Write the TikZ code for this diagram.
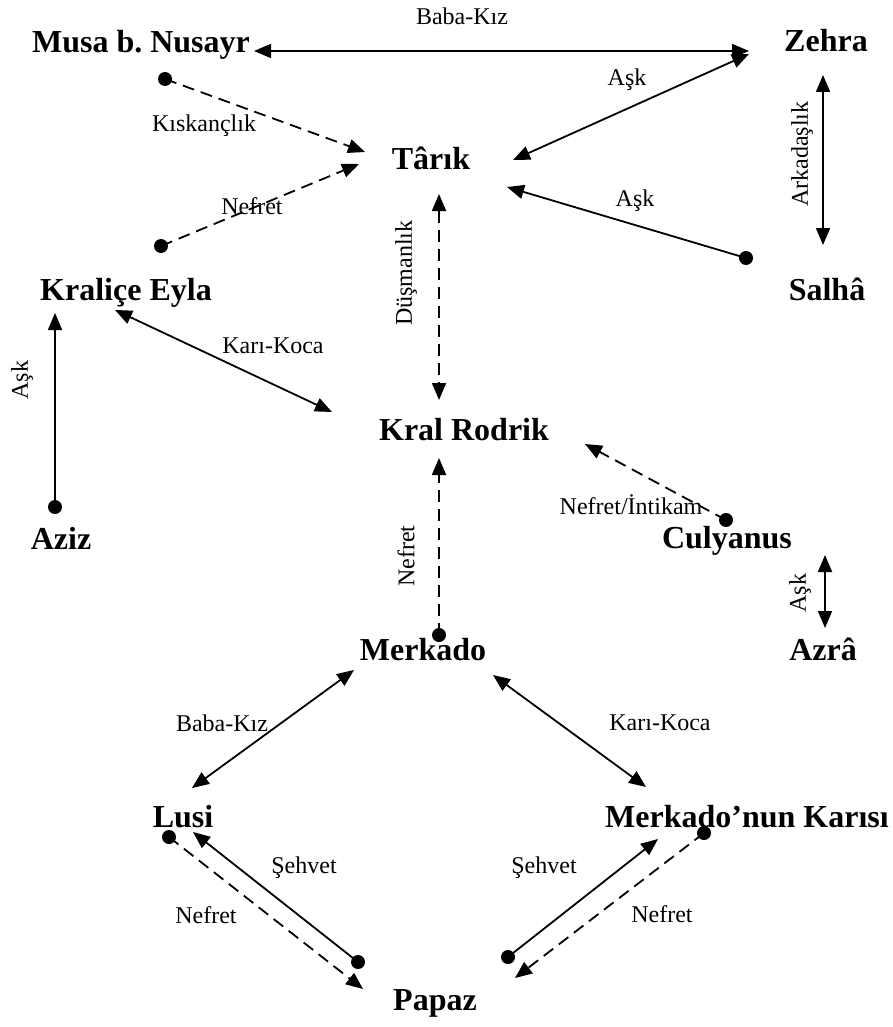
\documentclass[tikz,border=0pt]{standalone}
\usepackage{fontspec}
\setmainfont{Liberation Serif}
\usetikzlibrary{arrows.meta}
\frenchspacing

\tikzset{
  person/.style={font=\fontsize{32}{36}\selectfont\bfseries, inner sep=0pt, anchor=base},
  rel/.style={font=\fontsize{24}{28}\selectfont, inner sep=0pt},
  relup/.style={rel, rotate=90},
  link/.style={line width=1.8pt},
  tip/.style={-{Triangle[length=17pt,width=14pt]}},
  both/.style={{Triangle[length=17pt,width=14pt]}-{Triangle[length=17pt,width=14pt]}},
  brokenline/.style={dash pattern=on 12pt off 7pt},
  dot/.style={circle, fill=black, inner sep=0pt, minimum width=13pt, minimum height=14pt}
}

\begin{document}
\begin{tikzpicture}[x=1pt, y=-1pt]
  \fill[white] (0,0) rectangle (893,1027);
  \useasboundingbox (0,0) rectangle (893,1027);

  % characters
  \node[person] (musa)     at (141,53)  {Musa b.\ Nusayr};
  \node[person] (zehra)    at (826,52)  {Zehra};
  \node[person] (tarik)    at (431,170) {Târık};
  \node[person] (kralice)  at (126,300) {Kraliçe Eyla};
  \node[person] (salha)    at (827,300) {Salhâ};
  \node[person] (rodrik)   at (464,440) {Kral Rodrik};
  \node[person] (aziz)     at (61,549)  {Aziz};
  \node[person] (culyanus) at (727,548) {Culyanus};
  \node[person] (merkado)  at (423,660) {Merkado};
  \node[person] (azra)     at (823,660) {Azrâ};
  \node[person] (lusi)     at (183,827) {Lusi};
  \node[person] (karisi)   at (747,827) {Merkado’nun Karısı};
  \node[person] (papaz)    at (435,1010) {Papaz};

  % arrow ends
  \coordinate (musaR)    at (254,51);
  \coordinate (zehraL)   at (749,51);
  \coordinate (zehraSW)  at (749,54);
  \coordinate (tarikNE)  at (513,160);
  \coordinate (tarikNW)  at (365,152);
  \coordinate (tarikW)   at (359,164);
  \coordinate (tarikE)   at (507,187);
  \coordinate (zehraS)   at (823,75);
  \coordinate (salhaN)   at (823,245);
  \coordinate (tarikS)   at (439,194);
  \coordinate (rodrikN)  at (439,400);
  \coordinate (kraliceSE) at (115,310);
  \coordinate (rodrikNW) at (332,412);
  \coordinate (kraliceS) at (55,313);
  \coordinate (rodrikS)  at (439,458);
  \coordinate (rodrikSE) at (585,444);
  \coordinate (culyanusS) at (825,555);
  \coordinate (azraN)    at (825,628);
  \coordinate (merkadoSW) at (354,670);
  \coordinate (lusiNE)   at (192,788);
  \coordinate (merkadoSE) at (493,675);
  \coordinate (karisiNW) at (646,787);
  \coordinate (lusiSE)   at (193,832);
  \coordinate (papazNW)  at (363,989);
  \coordinate (karisiSW) at (658,839);
  \coordinate (papazNE)  at (515,978);

  % start dots
  \node[dot] (dKisk)   at (165,79)  {};
  \node[dot] (dNefK)   at (161,246) {};
  \node[dot] (dSalha)  at (746,258) {};
  \node[dot] (dAziz)   at (55,507)  {};
  \node[dot] (dMerk)   at (439,635) {};
  \node[dot] (dCuly)   at (726,520) {};
  \node[dot] (dPapL)   at (358,962) {};
  \node[dot] (dLusi)   at (169,837) {};
  \node[dot] (dPapR)   at (508,957) {};
  \node[dot] (dKarisi) at (704,833) {};

  % connectors
  \draw[link, both] (musaR) -- (zehraL);
  \draw[link, both] (zehraSW) -- (tarikNE);
  \draw[link, tip, brokenline] (dKisk.center) -- (tarikNW);
  \draw[link, tip, brokenline] (dNefK.center) -- (tarikW);
  \draw[link, tip] (dSalha.center) -- (tarikE);
  \draw[link, both] (zehraS) -- (salhaN);
  \draw[link, both, brokenline] (tarikS) -- (rodrikN);
  \draw[link, both] (kraliceSE) -- (rodrikNW);
  \draw[link, tip] (dAziz.center) -- (kraliceS);
  \draw[link, tip, brokenline] (dMerk.center) -- (rodrikS);
  \draw[link, tip, brokenline] (dCuly.center) -- (rodrikSE);
  \draw[link, both] (culyanusS) -- (azraN);
  \draw[link, both] (merkadoSW) -- (lusiNE);
  \draw[link, both] (merkadoSE) -- (karisiNW);
  \draw[link, tip] (dPapL.center) -- (lusiSE);
  \draw[link, tip, brokenline] (dLusi.center) -- (papazNW);
  \draw[link, tip] (dPapR.center) -- (karisiSW);
  \draw[link, tip, brokenline] (dKarisi.center) -- (papazNE);

  % relation labels
  \node[rel] (lBabaTop)  at (462,16)  {Baba-Kız};
  \node[rel] (lAskZ)     at (627,80)  {Aşk};
  \node[rel] (lKisk)     at (204,126) {Kıskançlık};
  \node[rel] (lNefT)     at (252,206) {Nefret};
  \node[rel] (lAskS)     at (635,201) {Aşk};
  \node[relup] (lArk)    at (802,154) {Arkadaşlık};
  \node[relup] (lDus)    at (406,273) {Düşmanlık};
  \node[rel] (lKari)     at (273,346) {Karı-Koca};
  \node[relup] (lAskA)   at (22,380)  {Aşk};
  \node[relup] (lNefR)   at (406,556) {Nefret};
  \node[rel] (lInt)      at (631,505) {Nefret/İntikam};
  \node[relup] (lAskC)   at (800,593) {Aşk};
  \node[rel] (lBabaL)    at (222,723) {Baba-Kız};
  \node[rel] (lKariM)    at (660,723) {Karı-Koca};
  \node[rel] (lSehL)     at (304,868) {Şehvet};
  \node[rel] (lNefL)     at (206,915) {Nefret};
  \node[rel] (lSehR)     at (544,868) {Şehvet};
  \node[rel] (lNefP)     at (662,914) {Nefret};
\end{tikzpicture}
\end{document}
